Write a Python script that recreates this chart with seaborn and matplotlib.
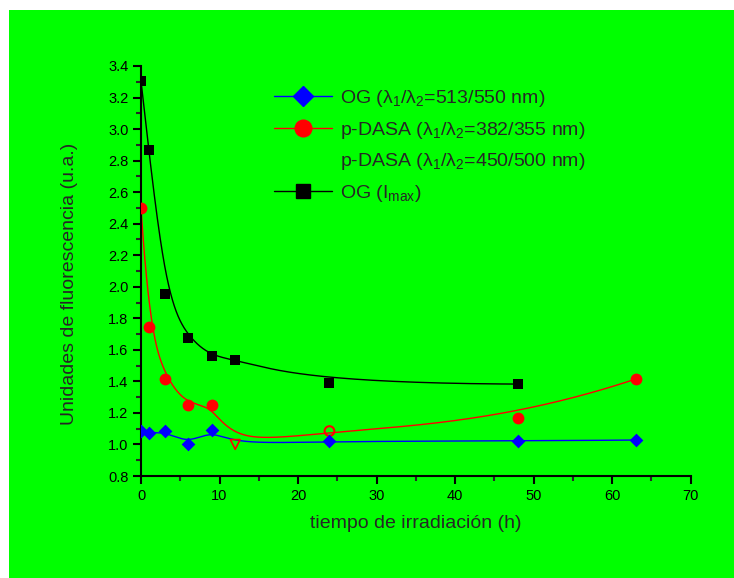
import numpy as np
import pandas as pd
import matplotlib
matplotlib.use("Agg")
import matplotlib.pyplot as plt
from matplotlib.lines import Line2D
from matplotlib.patches import Rectangle
from matplotlib.ticker import MultipleLocator
import seaborn as sns

# ---------------- data ----------------
og_x = [0, 1, 3, 6, 9, 12, 24, 48, 63]
og_y = [1.085, 1.071, 1.087, 1.003, 1.092, 1.00, 1.022, 1.022, 1.028]

dasa_x = [0, 1, 3, 6, 9, 12, 24, 48, 63]
dasa_y = [2.50, 1.747, 1.417, 1.250, 1.252, 1.00, 1.085, 1.166, 1.415]

imax_x = [0, 1, 3, 6, 9, 12, 24, 48]
imax_y = [3.305, 2.865, 1.956, 1.675, 1.561, 1.536, 1.388, 1.383]

legend_labels = [
    "OG (λ$_1$/λ$_2$=513/550 nm)",
    "p-DASA (λ$_1$/λ$_2$=382/355 nm)",
    "p-DASA (λ$_1$/λ$_2$=450/500 nm)",
    "OG (I$_{\\mathrm{max}}$)",
]
x_label = "tiempo de irradiación (h)"
y_label = "Unidades de fluorescencia (u.a.)"

GREEN = "#00FF00"


def bspline(xs, ys, k=3, num=500):
    """Clamped uniform B-spline using the data points as control points
    (Origin-style 'B-Spline' line connection)."""
    P = np.column_stack([xs, ys]).astype(float)
    n = len(P)
    k = min(k, n - 1)
    t = np.concatenate([np.zeros(k + 1), np.arange(1, n - k),
                        np.full(k + 1, n - k)]).astype(float)
    u = np.linspace(0, n - k, num)
    u[-1] -= 1e-9

    def N(i, p, uu):
        if p == 0:
            return np.where((t[i] <= uu) & (uu < t[i + 1]), 1.0, 0.0)
        a = 0.0
        if t[i + p] != t[i]:
            a = (uu - t[i]) / (t[i + p] - t[i]) * N(i, p - 1, uu)
        b = 0.0
        if t[i + p + 1] != t[i + 1]:
            b = (t[i + p + 1] - uu) / (t[i + p + 1] - t[i + 1]) * N(i + 1, p - 1, uu)
        return a + b

    B = np.array([N(i, k, u) for i in range(n)])
    C = B.T @ P
    return C[:, 0], C[:, 1]


sns.set_style("ticks")
plt.rcParams["font.family"] = ["Liberation Sans", "DejaVu Sans"]
plt.rcParams["mathtext.fontset"] = "custom"
plt.rcParams["mathtext.rm"] = "Liberation Sans"
plt.rcParams["mathtext.it"] = "Liberation Sans"
plt.rcParams["mathtext.bf"] = "Liberation Sans:bold"

fig = plt.figure(figsize=(7.34, 5.78), dpi=100, facecolor="white")
fig.patches.append(Rectangle((9 / 734, 0), 1, (578 - 10) / 578,
                             transform=fig.transFigure, facecolor=GREEN,
                             edgecolor="none", zorder=-10))
ax = fig.add_axes([141 / 734, 1 - 476 / 578, (690.7 - 141) / 734, 410 / 578])
ax.set_facecolor("none")

# curves
for xs, ys, col in [(og_x, og_y, "#0000FF"), (dasa_x, dasa_y, "#FF0000"),
                    (imax_x, imax_y, "black")]:
    cx, cy = bspline(xs, ys)
    sns.lineplot(x=cx, y=cy, ax=ax, color=col, lw=1.0, sort=False,
                 estimator=None, legend=False, zorder=2)

# markers
def pts(xs, ys, keep):
    return pd.DataFrame({"x": [xs[i] for i in keep], "y": [ys[i] for i in keep]})

sns.scatterplot(data=pts(imax_x, imax_y, range(len(imax_x))), x="x", y="y",
                marker="s", s=7.5 ** 2, color="black", linewidth=0, ax=ax,
                zorder=3, legend=False)
sns.scatterplot(data=pts(dasa_x, dasa_y, [0, 1, 2, 3, 4, 7, 8]), x="x", y="y",
                marker="o", s=8.5 ** 2, color="#FF0000", linewidth=0, ax=ax,
                zorder=3, legend=False)
sns.scatterplot(data=pts(dasa_x, dasa_y, [6]), x="x", y="y",
                marker="o", s=7 ** 2, facecolor="none", edgecolor="#FF0000",
                linewidth=1.5, ax=ax, zorder=3, legend=False)
sns.scatterplot(data=pts(og_x, og_y, [5]), x="x", y="y",
                marker="v", s=7 ** 2, facecolor="none", edgecolor="#FF0000",
                linewidth=1.2, ax=ax, zorder=3, legend=False)
sns.scatterplot(data=pts(og_x, og_y, [0, 1, 2, 3, 4, 6, 7, 8]), x="x", y="y",
                marker="D", s=7 ** 2, color="#0000FF", linewidth=0, ax=ax,
                zorder=4, legend=False)

ax.set_xlim(0, 70)
ax.set_ylim(0.8, 3.4)
ax.xaxis.set_major_locator(MultipleLocator(10))
ax.xaxis.set_minor_locator(MultipleLocator(5))
ax.yaxis.set_major_locator(MultipleLocator(0.2))
ax.yaxis.set_minor_locator(MultipleLocator(0.1))
ax.yaxis.set_major_formatter(matplotlib.ticker.FormatStrFormatter("%.1f"))

for s in ["top", "right"]:
    ax.spines[s].set_visible(False)
for s in ["left", "bottom"]:
    ax.spines[s].set_linewidth(1.5)
    ax.spines[s].set_color("black")
ax.tick_params(which="major", direction="out", length=6, width=1.5,
               labelsize=10.5, pad=3, colors="black")
ax.tick_params(which="minor", direction="out", length=3.5, width=1.5)

ax.set_xlabel(x_label, fontsize=14)
ax.set_ylabel(y_label, fontsize=14)
ax.xaxis.set_label_coords(0.5, (476 - 515) / 410)
ax.yaxis.set_label_coords((78 - 141) / 550, (476 - 284) / 410)

handles = [
    Line2D([], [], color="#0000FF", marker="D", markersize=10, lw=1),
    Line2D([], [], color="#FF0000", marker="o", markersize=12, lw=1),
    Line2D([], [], color="none", marker=None, lw=1),
    Line2D([], [], color="black", marker="s", markersize=10, lw=1),
]
leg = ax.legend(handles, legend_labels, loc="upper left",
                bbox_to_anchor=((274 - 141) / 550, (476 - 88) / 410),
                frameon=False, fontsize=14, handlelength=3.0,
                handletextpad=0.4, labelspacing=0.55, borderpad=0,
                borderaxespad=0)

fig.savefig("out.png", dpi=100, facecolor="white")
